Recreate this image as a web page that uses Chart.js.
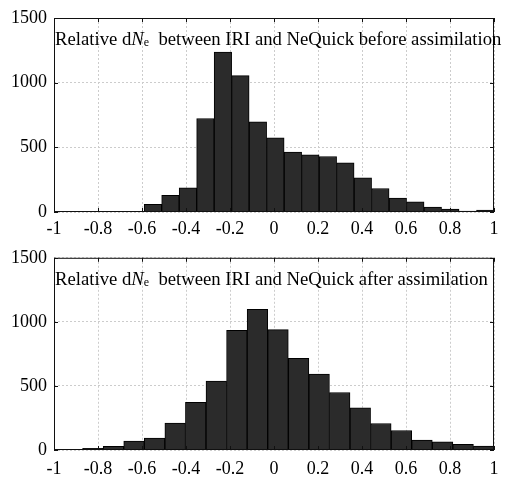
<!DOCTYPE html>
<html>
<head>
<meta charset="utf-8">
<script src="https://cdn.jsdelivr.net/npm/chart.js@4/dist/chart.umd.min.js"></script>
<style>
  body { margin: 0; background: #fff; }
  #wrap { position: relative; width: 515px; height: 477px; }
  .box { position: absolute; left: 0; width: 515px; }
</style>
</head>
<body>
<div id="wrap">
  <div class="box" style="top:0;height:240px"><canvas id="topChart" width="515" height="240"></canvas></div>
  <div class="box" style="top:240px;height:237px"><canvas id="bottomChart" width="515" height="237"></canvas></div>
</div>
<script>
// tick labels
const xTicks = [-1, -0.8, -0.6, -0.4, -0.2, 0, 0.2, 0.4, 0.6, 0.8, 1];
const yTicks = [0, 500, 1000, 1500];

// before assimilation: bin centres and counts
const beforeCenters = [-0.5503, -0.4708, -0.3913, -0.3118, -0.2323, -0.1528, -0.0733, 0.0063, 0.0858, 0.1653,
                       0.2448, 0.3243, 0.4038, 0.4833, 0.5628, 0.6423, 0.7218, 0.8013, 0.8808, 0.9603];
const beforeCounts = [60, 129, 186, 723, 1237, 1054, 697, 573, 464, 442,
                      429, 380, 265, 182, 107, 78, 38, 23, 8, 15];

// after assimilation
const afterCenters = [-0.8233, -0.7298, -0.6363, -0.5428, -0.4493, -0.3558, -0.2623, -0.1688, -0.0753, 0.0182,
                      0.1117, 0.2052, 0.2987, 0.3922, 0.4857, 0.5792, 0.6727, 0.7662, 0.8597, 0.9532];
const afterCounts = [13, 28, 70, 93, 210, 372, 537, 933, 1098, 940,
                     716, 593, 449, 330, 207, 152, 78, 64, 45, 31];

const serif = '"Liberation Serif", "Times New Roman", serif';
Chart.defaults.font.family = serif;
Chart.defaults.font.size = 18;
Chart.defaults.color = '#000';

// box round the plot plus inward tick marks, matlab style
const framePlugin = {
  id: 'frame',
  afterDatasetsDraw(chart) {
    const { ctx, chartArea: a, scales } = chart;
    ctx.save();
    ctx.strokeStyle = '#111';
    ctx.lineWidth = 1;
    ctx.strokeRect(a.left + 0.5, a.top + 0.5, a.right - a.left - 1, a.bottom - a.top - 1);
    ctx.beginPath();
    const t = 4;
    scales.x.ticks.forEach(tk => {
      const x = Math.round(scales.x.getPixelForValue(tk.value)) + 0.5;
      ctx.moveTo(x, a.bottom); ctx.lineTo(x, a.bottom - t);
      ctx.moveTo(x, a.top); ctx.lineTo(x, a.top + t);
    });
    scales.y.ticks.forEach(tk => {
      const y = Math.round(scales.y.getPixelForValue(tk.value)) + 0.5;
      ctx.moveTo(a.left, y); ctx.lineTo(a.left + t, y);
      ctx.moveTo(a.right, y); ctx.lineTo(a.right - t, y);
    });
    ctx.stroke();
    ctx.restore();
  }
};

// the "Relative dNe ..." caption inside the plot
const captionPlugin = {
  id: 'caption',
  afterDraw(chart, args, opts) {
    const { ctx, chartArea: a } = chart;
    let x = a.left + 1;
    const y = a.top + 27;
    ctx.save();
    ctx.fillStyle = '#000';
    ctx.textBaseline = 'alphabetic';
    ctx.font = '18.7px ' + serif;
    ctx.fillText('Relative d', x, y);
    x += ctx.measureText('Relative d').width;
    ctx.font = 'italic 18.7px ' + serif;
    ctx.fillText('N', x, y);
    x += ctx.measureText('N').width;
    ctx.font = '12px ' + serif;
    ctx.fillText('e', x, y + 1);
    x += ctx.measureText('e').width;
    ctx.font = '18.7px ' + serif;
    ctx.fillText('  ' + opts.rest, x, y);
    ctx.restore();
  }
};

function makeChart(id, centers, counts, rest, padTop, xHeight, xPad) {
  const points = centers.map((c, i) => ({ x: c, y: counts[i] }));
  return new Chart(document.getElementById(id), {
    type: 'bar',
    data: {
      datasets: [{
        data: points,
        backgroundColor: '#2b2b2b',
        borderColor: '#000',
        borderWidth: 1,
        barPercentage: 1,
        categoryPercentage: 1
      }]
    },
    options: {
      responsive: false,
      animation: false,
      layout: { padding: { left: 0, right: 21, top: padTop, bottom: 0 } },
      plugins: {
        legend: { display: false },
        tooltip: { enabled: false },
        caption: { rest: rest }
      },
      scales: {
        x: {
          type: 'linear',
          min: -1, max: 1,
          offset: false,
          afterBuildTicks: s => { s.ticks = xTicks.map(v => ({ value: v })); },
          afterFit: s => { s.height = xHeight; },
          ticks: { padding: xPad, maxRotation: 0, autoSkip: false, callback: v => String(v) },
          grid: { offset: false, color: '#cccccc', drawTicks: false },
          border: { display: false, dash: [2, 2] }
        },
        y: {
          min: 0, max: 1500,
          afterBuildTicks: s => { s.ticks = yTicks.map(v => ({ value: v })); },
          afterFit: s => { s.width = 54; },
          ticks: { padding: 7, callback: v => String(v) },
          grid: { color: '#cccccc', drawTicks: false },
          border: { display: false, dash: [2, 2] }
        }
      }
    },
    plugins: [framePlugin, captionPlugin]
  });
}

makeChart('topChart', beforeCenters, beforeCounts, 'between IRI and NeQuick before assimilation', 18, 28, 6);
makeChart('bottomChart', afterCenters, afterCounts, 'between IRI and NeQuick after assimilation', 17, 27, 8);
</script>
</body>
</html>
